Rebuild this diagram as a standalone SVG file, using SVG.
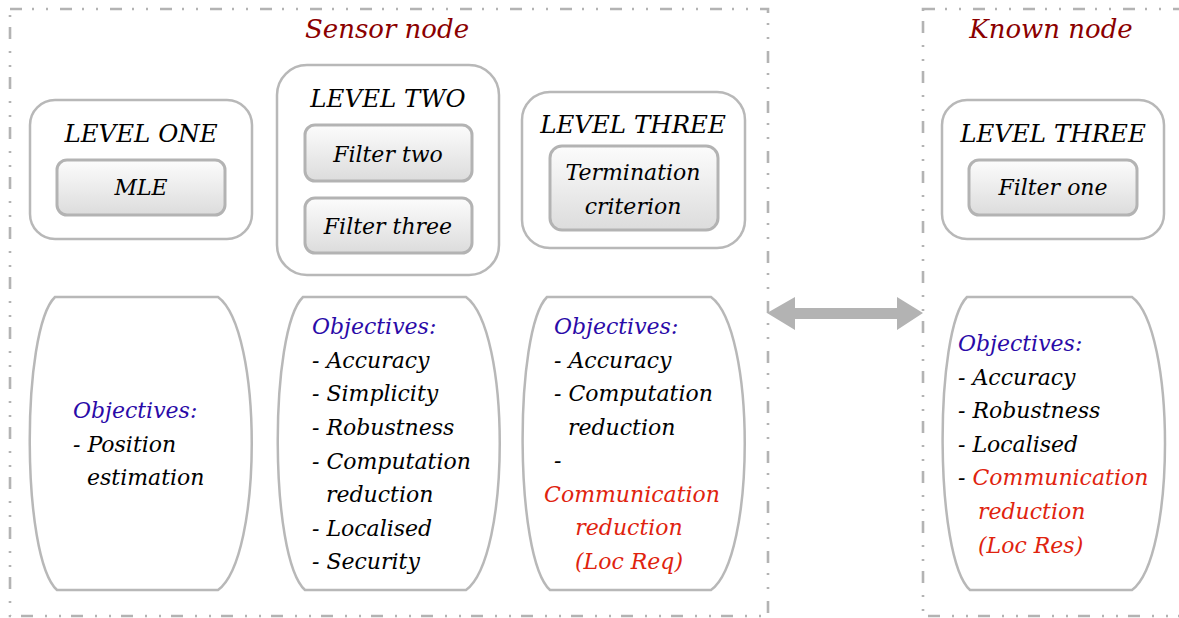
<svg xmlns="http://www.w3.org/2000/svg" width="1179" height="618" viewBox="0 0 1179 618">
<defs>
<linearGradient id="g" x1="0" y1="0" x2="0" y2="1">
<stop offset="0" stop-color="#fcfcfc"/>
<stop offset="1" stop-color="#dcdcdc"/>
</linearGradient>
<style>
.frame{fill:none;stroke:#b3b3b3;stroke-width:2.6;stroke-dasharray:12 10 2 12 2 12}
.lvl{fill:#fff;stroke:#b8b8b8;stroke-width:2.5}
.inner{fill:url(#g);stroke:#b3b3b3;stroke-width:3}
.barrel{fill:#fff;stroke:#b8b8b8;stroke-width:2.5}
text{font-family:"DejaVu Serif","Liberation Serif",serif;font-style:italic}
.title{font-size:26px;fill:#8b0000;text-anchor:middle}
.head{font-size:24.5px;fill:#000;text-anchor:middle}
.lab{font-size:22px;fill:#000;text-anchor:middle}
.obj{font-size:22px;fill:#000}
.blue{fill:#2a0aa8}
.red{fill:#e0230e}
</style>
</defs>
<g id="sensor-node">
<rect class="frame" x="10" y="9" width="758" height="607"/>
<text class="title" x="387" y="38">Sensor node</text>
</g>
<g id="known-node">
<rect class="frame" x="923" y="9" width="280" height="607"/>
<text class="title" x="1051" y="38">Known node</text>
</g>
<g id="level-one">
<rect class="lvl" x="30" y="100" width="222" height="139" rx="25"/>
<text class="head" x="141" y="142">LEVEL ONE</text>
</g>
<g id="mle">
<rect class="inner" x="57" y="160" width="168" height="55" rx="10"/>
<text class="lab" x="141" y="195">MLE</text>
</g>
<g id="level-two">
<rect class="lvl" x="277" y="65" width="222" height="210" rx="30"/>
<text class="head" x="388" y="107">LEVEL TWO</text>
</g>
<g id="filter-two">
<rect class="inner" x="305" y="125" width="167" height="56" rx="10"/>
<text class="lab" x="388" y="162">Filter two</text>
</g>
<g id="filter-three">
<rect class="inner" x="305" y="198" width="167" height="55" rx="10"/>
<text class="lab" x="388" y="234">Filter three</text>
</g>
<g id="level-three-sensor">
<rect class="lvl" x="522" y="92" width="223" height="156" rx="28"/>
<text class="head" x="633" y="133">LEVEL THREE</text>
</g>
<g id="termination">
<rect class="inner" x="550" y="146" width="168" height="84" rx="12"/>
<text class="lab" x="633" y="180">Termination</text>
<text class="lab" x="633" y="214">criterion</text>
</g>
<g id="level-three-known">
<rect class="lvl" x="942" y="100" width="222" height="139" rx="25"/>
<text class="head" x="1053" y="142">LEVEL THREE</text>
</g>
<g id="filter-one">
<rect class="inner" x="969" y="160" width="168" height="55" rx="10"/>
<text class="lab" x="1053" y="195">Filter one</text>
</g>
<g id="objectives-one">
<path class="barrel" d="M55,297 H218 C263,330 263,557 218,590 H57 C21,557 21,330 55,297 Z"/>
<text class="obj blue" x="73" y="418">Objectives:</text>
<text class="obj" x="73" y="452">- Position</text>
<text class="obj" x="87" y="485">estimation</text>
</g>
<g id="objectives-two">
<path class="barrel" d="M303,297 H466 C511,330 511,557 466,590 H305 C269,557 269,330 303,297 Z"/>
<text class="obj blue" x="312" y="334">Objectives:</text>
<text class="obj" x="312" y="368">- Accuracy</text>
<text class="obj" x="312" y="401">- Simplicity</text>
<text class="obj" x="312" y="435">- Robustness</text>
<text class="obj" x="312" y="469">- Computation</text>
<text class="obj" x="326" y="502">reduction</text>
<text class="obj" x="312" y="536">- Localised</text>
<text class="obj" x="312" y="569">- Security</text>
</g>
<g id="objectives-three">
<path class="barrel" d="M547,297 H711 C756,330 756,557 711,590 H550 C514,557 514,330 547,297 Z"/>
<text class="obj blue" x="554" y="334">Objectives:</text>
<text class="obj" x="554" y="368">- Accuracy</text>
<text class="obj" x="554" y="401">- Computation</text>
<text class="obj" x="568" y="435">reduction</text>
<text class="obj" x="554" y="468">-</text>
<text class="obj red" x="632" y="502" text-anchor="middle">Communication</text>
<text class="obj red" x="629" y="535" text-anchor="middle">reduction</text>
<text class="obj red" x="629" y="569" text-anchor="middle">(Loc Req)</text>
</g>
<g id="objectives-known">
<path class="barrel" d="M967,297 H1132 C1176,330 1176,557 1132,590 H970 C934,557 934,330 967,297 Z"/>
<text class="obj blue" x="958" y="351">Objectives:</text>
<text class="obj" x="958" y="385">- Accuracy</text>
<text class="obj" x="958" y="418">- Robustness</text>
<text class="obj" x="958" y="452">- Localised</text>
<text class="obj" x="958" y="485">- <tspan class="red">Communication</tspan></text>
<text class="obj red" x="978" y="519">reduction</text>
<text class="obj red" x="978" y="553">(Loc Res)</text>
</g>
<g id="connectors">
<polygon points="767,313 795,297 795,308 897,308 897,297 923,313 897,330 897,319 795,319 795,330" fill="#b3b3b3"/>
</g>
</svg>
